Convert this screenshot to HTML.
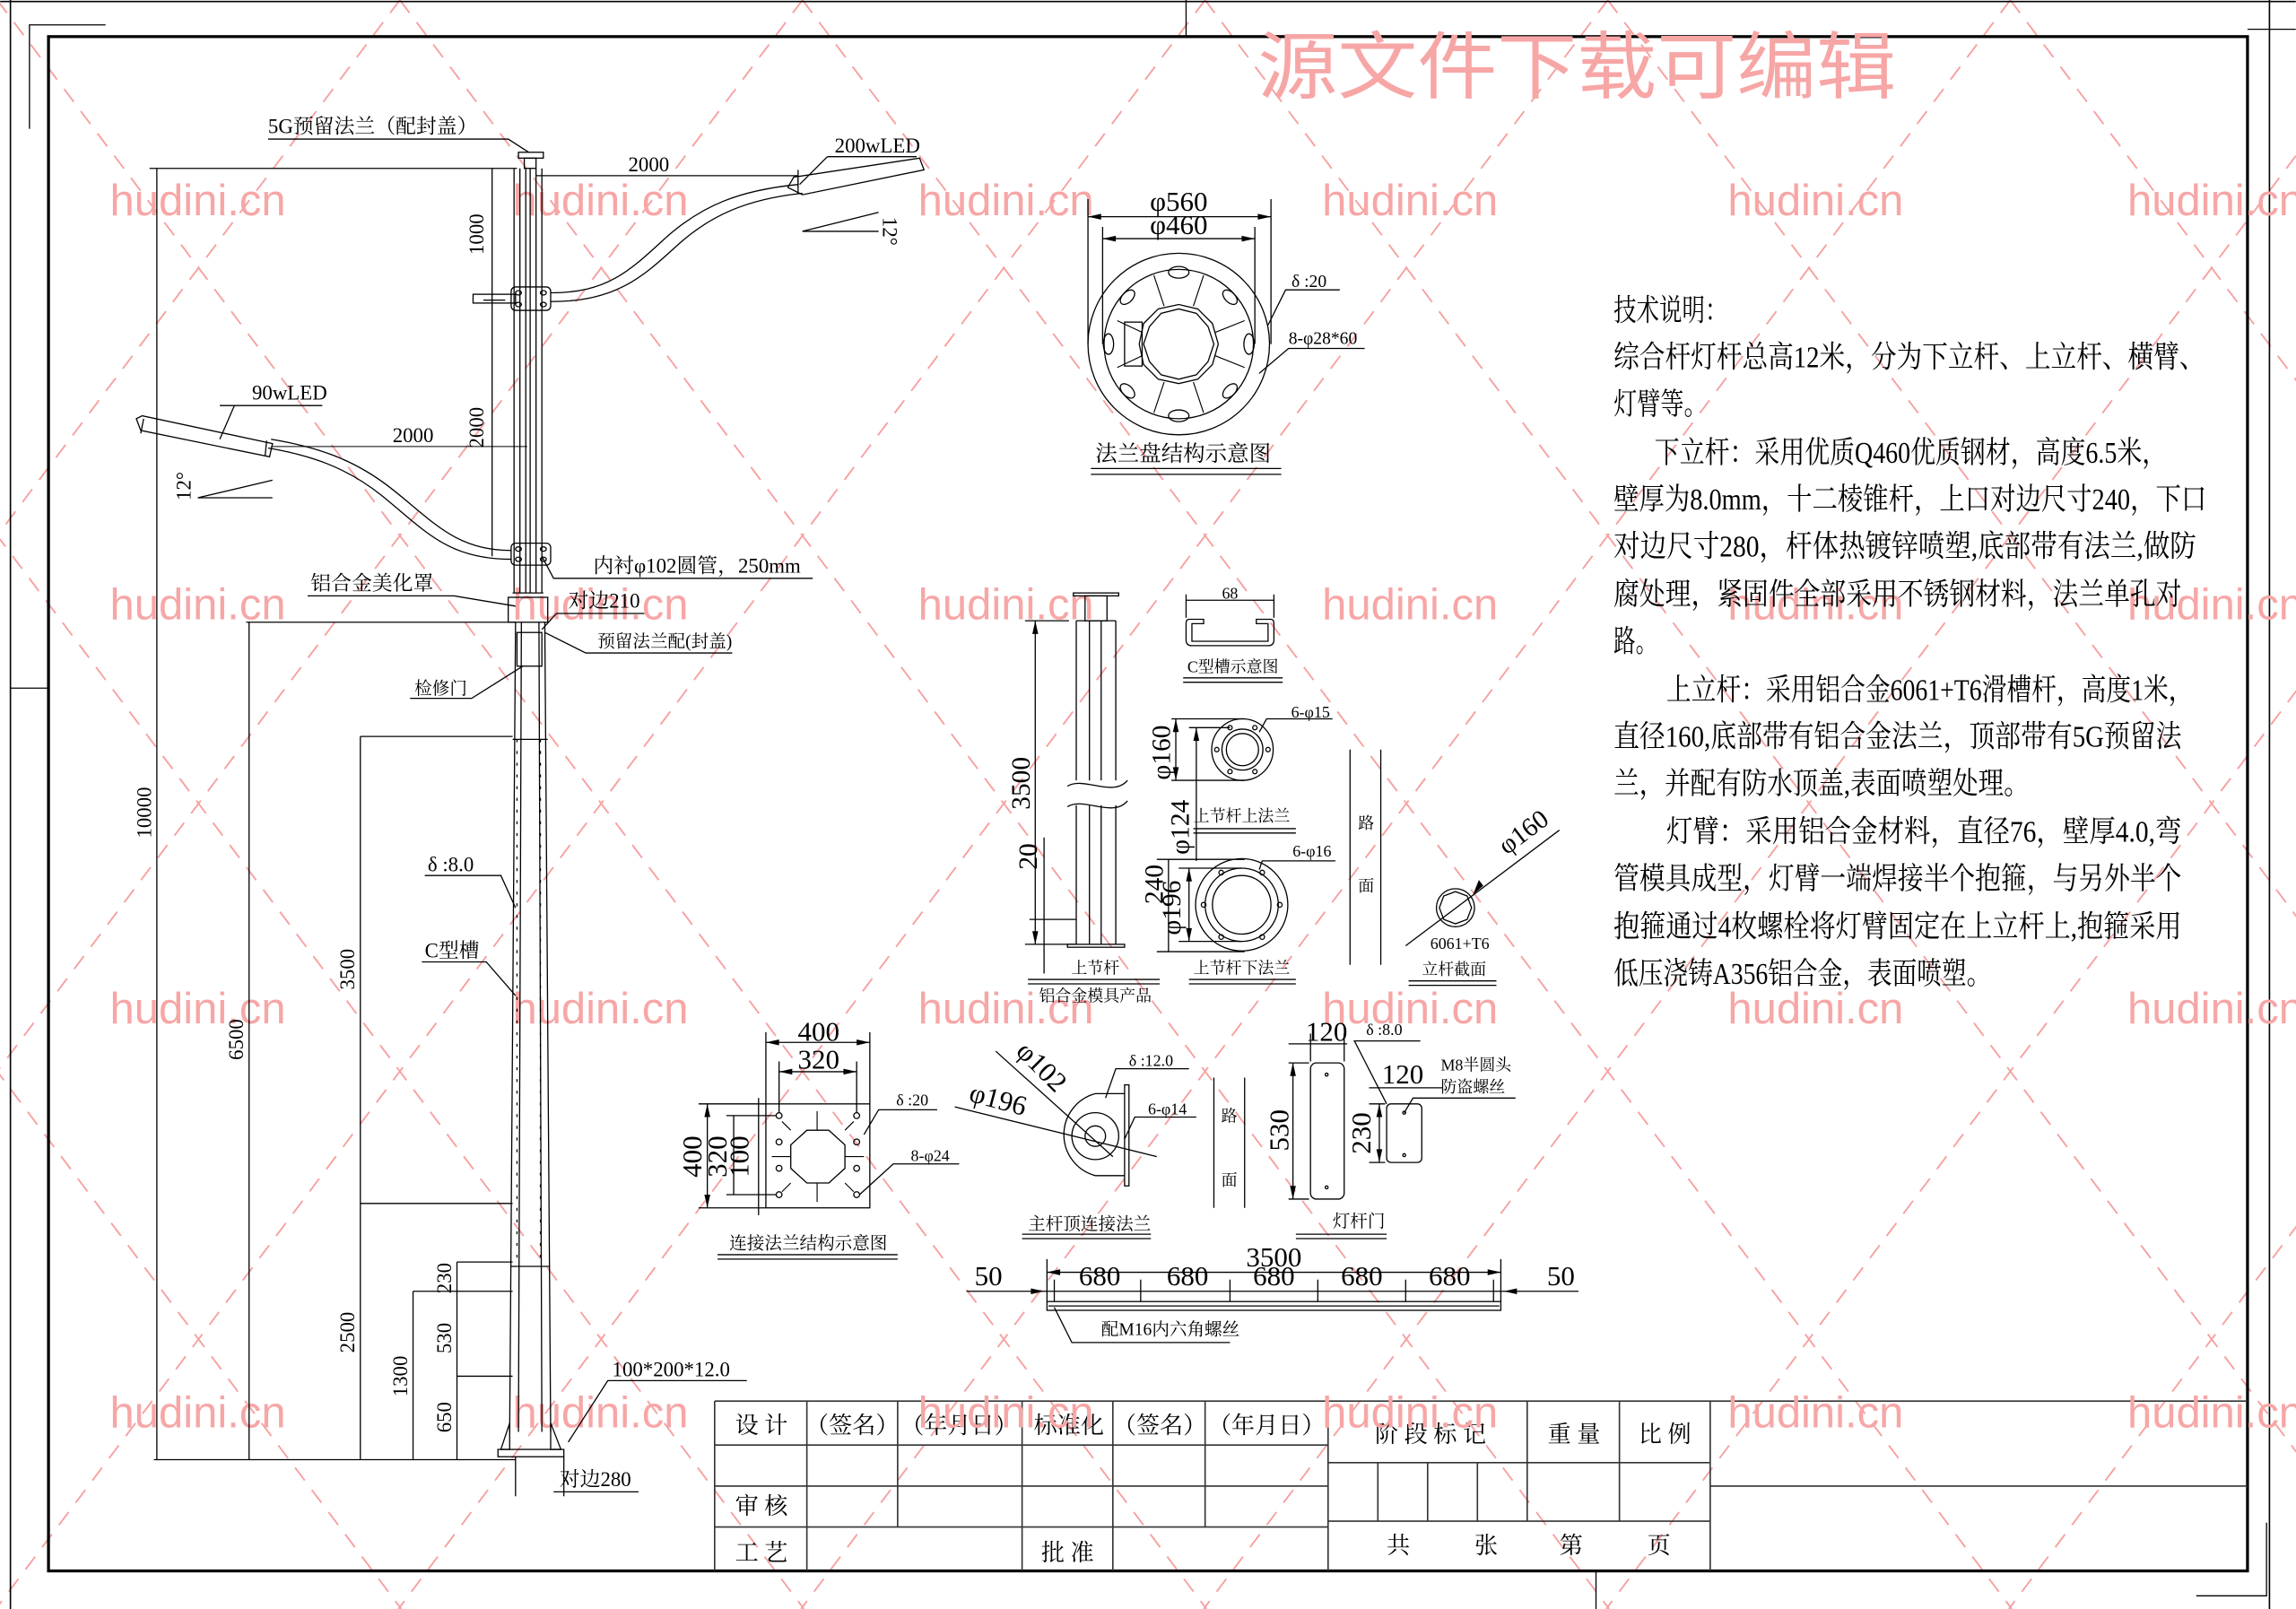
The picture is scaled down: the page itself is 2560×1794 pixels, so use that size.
<!DOCTYPE html>
<html><head><meta charset="utf-8"><style>
html,body{margin:0;padding:0;background:#fff;}
svg{display:block;}
text{font-family:"Liberation Serif","Noto Serif CJK SC",serif;fill:#000;stroke:none;}
.wm text{font-family:"Liberation Sans",sans-serif;fill:#f7a6a6;font-size:30px;}
.ttl{font-family:"Noto Sans CJK SC",sans-serif;fill:#f7a6a6;}
</style></head><body>
<svg width="2560" height="1794" viewBox="0 0 1568 1099" xmlns="http://www.w3.org/2000/svg">
<rect width="1568" height="1099" fill="#fff"/>
<!-- watermark dashed lines -->
<g stroke="#f6a3a3" stroke-width="1.2" stroke-dasharray="11 8" fill="none">
<line x1="-552" y1="0" x2="274" y2="1099"/><line x1="-277" y1="0" x2="549" y2="1099"/><line x1="-2" y1="0" x2="824" y2="1099"/><line x1="273" y1="0" x2="1099" y2="1099"/><line x1="548" y1="0" x2="1374" y2="1099"/><line x1="823" y1="0" x2="1649" y2="1099"/><line x1="1098" y1="0" x2="1924" y2="1099"/><line x1="1373" y1="0" x2="2199" y2="1099"/>
<line x1="-2" y1="0" x2="-828" y2="1099"/><line x1="273" y1="0" x2="-553" y2="1099"/><line x1="548" y1="0" x2="-278" y2="1099"/><line x1="823" y1="0" x2="-3" y2="1099"/><line x1="1098" y1="0" x2="272" y2="1099"/><line x1="1373" y1="0" x2="547" y2="1099"/><line x1="1648" y1="0" x2="822" y2="1099"/><line x1="1923" y1="0" x2="1097" y2="1099"/><line x1="2198" y1="0" x2="1372" y2="1099"/>
</g>
<!-- frame -->
<g fill="none" stroke="#000">
<line x1="0" y1="1" x2="1568" y2="1" stroke-width="1"/>
<line x1="7" y1="0" x2="7" y2="1099" stroke-width="1"/>
<line x1="1550" y1="0" x2="1550" y2="1099" stroke-width="1"/>
<rect x="33" y="25" width="1502" height="1048" stroke-width="2"/>
<polyline points="72,17 20,17 20,88" stroke-width="0.8"/>
<polyline points="1500,1090 1548,1090 1548,1040" stroke-width="0.8"/>
<line x1="7" y1="470" x2="33" y2="470" stroke-width="0.8"/>
<line x1="1535" y1="20" x2="1568" y2="20" stroke-width="0.8"/>
<line x1="810" y1="0" x2="810" y2="25" stroke-width="0.8"/>
<line x1="1090" y1="1073" x2="1090" y2="1099" stroke-width="0.8"/>
</g>
<!-- title block -->
<g fill="none" stroke="#333" stroke-width="1">
<line x1="488" y1="957" x2="1535" y2="957"/>
<line x1="488" y1="957" x2="488" y2="1073"/>
<line x1="488" y1="987" x2="907" y2="987"/>
<line x1="488" y1="1015" x2="907" y2="1015"/>
<line x1="488" y1="1043" x2="907" y2="1043"/>
<line x1="551" y1="957" x2="551" y2="1073"/><line x1="613" y1="957" x2="613" y2="1043"/>
<line x1="698" y1="957" x2="698" y2="1073"/><line x1="760" y1="957" x2="760" y2="1073"/>
<line x1="823" y1="957" x2="823" y2="1043"/><line x1="907" y1="957" x2="907" y2="1073"/>
<line x1="907" y1="999" x2="1168" y2="999"/><line x1="907" y1="1039" x2="1168" y2="1039"/>
<line x1="941" y1="999" x2="941" y2="1039"/><line x1="975" y1="999" x2="975" y2="1039"/><line x1="1009" y1="999" x2="1009" y2="1039"/>
<line x1="1043" y1="957" x2="1043" y2="1039"/><line x1="1106" y1="957" x2="1106" y2="1039"/>
<line x1="1168" y1="957" x2="1168" y2="1073"/>
<line x1="1168" y1="1015" x2="1535" y2="1015"/>
</g>
<g font-size="16" text-anchor="middle">
<text x="520" y="979">设 计</text><text x="582" y="979">（签名）</text><text x="655" y="979">（年月日）</text><text x="730" y="979">标准化</text><text x="792" y="979">（签名）</text><text x="865" y="979">（年月日）</text>
<text x="520" y="1034">审 核</text><text x="520" y="1066">工 艺</text><text x="729" y="1066">批 准</text>
<text x="977" y="985">阶 段 标 记</text><text x="1075" y="985">重 量</text><text x="1137" y="985">比 例</text>
<text x="955" y="1061">共</text><text x="1015" y="1061">张</text><text x="1073" y="1061">第</text><text x="1133" y="1061">页</text>
</g>
<!-- watermark text -->
<g class="wm" text-anchor="middle">
<text x="135" y="147">hudini.cn</text><text x="410" y="147">hudini.cn</text><text x="687" y="147">hudini.cn</text><text x="963" y="147">hudini.cn</text><text x="1240" y="147">hudini.cn</text><text x="1513" y="147">hudini.cn</text>
<text x="135" y="423">hudini.cn</text><text x="410" y="423">hudini.cn</text><text x="687" y="423">hudini.cn</text><text x="963" y="423">hudini.cn</text><text x="1240" y="423">hudini.cn</text><text x="1513" y="423">hudini.cn</text>
<text x="135" y="699">hudini.cn</text><text x="410" y="699">hudini.cn</text><text x="687" y="699">hudini.cn</text><text x="963" y="699">hudini.cn</text><text x="1240" y="699">hudini.cn</text><text x="1513" y="699">hudini.cn</text>
<text x="135" y="975">hudini.cn</text><text x="410" y="975">hudini.cn</text><text x="687" y="975">hudini.cn</text><text x="963" y="975">hudini.cn</text><text x="1240" y="975">hudini.cn</text><text x="1513" y="975">hudini.cn</text>
</g>
<text class="ttl" x="1077" y="63" text-anchor="middle" font-size="50" textLength="436" lengthAdjust="spacingAndGlyphs">源文件下载可编辑</text>

<!-- tech notes -->
<g font-size="21">
<text x="1102" y="219" textLength="78" lengthAdjust="spacingAndGlyphs">技术说明：</text>
<text x="1102" y="251" textLength="404" lengthAdjust="spacingAndGlyphs">综合杆灯杆总高12米，分为下立杆、上立杆、横臂、</text>
<text x="1102" y="283" textLength="64" lengthAdjust="spacingAndGlyphs">灯臂等。</text>
<text x="1130" y="316" textLength="350" lengthAdjust="spacingAndGlyphs">下立杆：采用优质Q460优质钢材，高度6.5米，</text>
<text x="1102" y="348" textLength="405" lengthAdjust="spacingAndGlyphs">壁厚为8.0mm，十二棱锥杆，上口对边尺寸240，下口</text>
<text x="1102" y="380" textLength="398" lengthAdjust="spacingAndGlyphs">对边尺寸280，杆体热镀锌喷塑,底部带有法兰,做防</text>
<text x="1102" y="413" textLength="388" lengthAdjust="spacingAndGlyphs">腐处理，紧固件全部采用不锈钢材料，法兰单孔对</text>
<text x="1102" y="445" textLength="30" lengthAdjust="spacingAndGlyphs">路。</text>
<text x="1138" y="478" textLength="360" lengthAdjust="spacingAndGlyphs">上立杆：采用铝合金6061+T6滑槽杆，高度1米，</text>
<text x="1102" y="510" textLength="388" lengthAdjust="spacingAndGlyphs">直径160,底部带有铝合金法兰，顶部带有5G预留法</text>
<text x="1102" y="542" textLength="284" lengthAdjust="spacingAndGlyphs">兰，并配有防水顶盖,表面喷塑处理。</text>
<text x="1138" y="575" textLength="352" lengthAdjust="spacingAndGlyphs">灯臂：采用铝合金材料，直径76，壁厚4.0,弯</text>
<text x="1102" y="607" textLength="388" lengthAdjust="spacingAndGlyphs">管模具成型，灯臂一端焊接半个抱箍，与另外半个</text>
<text x="1102" y="640" textLength="388" lengthAdjust="spacingAndGlyphs">抱箍通过4枚螺栓将灯臂固定在上立杆上,抱箍采用</text>
<text x="1102" y="672" textLength="258" lengthAdjust="spacingAndGlyphs">低压浇铸A356铝合金，表面喷塑。</text>
</g>

<!-- ===== main pole ===== -->
<g fill="none" stroke="#000" stroke-width="0.8">
<rect x="354" y="104" width="17" height="4"/><rect x="358" y="108" width="8" height="7"/>
<line x1="351" y1="115" x2="351" y2="405"/><line x1="355" y1="115" x2="355" y2="405"/><line x1="359" y1="115" x2="359" y2="405"/><line x1="362" y1="115" x2="362" y2="405"/><line x1="366" y1="115" x2="366" y2="405"/><line x1="370" y1="115" x2="370" y2="405"/>
<line x1="102" y1="115" x2="353" y2="115"/>
<line x1="366" y1="120" x2="545" y2="120"/><line x1="545" y1="116" x2="545" y2="128"/>
<line x1="336" y1="115" x2="336" y2="380"/><line x1="330" y1="205" x2="345" y2="205"/>
<rect x="349" y="196" width="27" height="16" rx="3"/>
<ellipse cx="354" cy="200" rx="2" ry="1.5"/><ellipse cx="371" cy="200" rx="2" ry="1.5"/><ellipse cx="354" cy="208" rx="2" ry="1.5"/><ellipse cx="371" cy="208" rx="2" ry="1.5"/>
<rect x="323" y="201" width="29" height="6"/>
<path d="M376,200 C415,200 430,185 455,162 C480,140 505,130 545,126"/>
<path d="M376,206 C420,206 438,190 462,168 C485,147 510,136 548,132"/>
<polygon points="538,128 542,121 628,108 631,116 548,133"/>
<line x1="545" y1="122" x2="545" y2="132"/>
<line x1="565" y1="107" x2="626" y2="107"/><line x1="565" y1="107" x2="546" y2="126"/>
<line x1="548" y1="158" x2="600" y2="158"/><line x1="548" y1="158" x2="600" y2="145"/>
<rect x="349" y="371" width="27" height="15" rx="3"/>
<ellipse cx="354" cy="375" rx="2" ry="1.5"/><ellipse cx="371" cy="375" rx="2" ry="1.5"/><ellipse cx="354" cy="382" rx="2" ry="1.5"/><ellipse cx="371" cy="382" rx="2" ry="1.5"/>
<path d="M349,376 C310,376 295,355 265,332 C240,313 215,305 185,300"/>
<path d="M349,382 C305,382 290,362 260,338 C236,319 212,311 183,306"/>
<polygon points="93,286 96,294 184,312 186,303 97,284"/>
<line x1="98" y1="286" x2="96" y2="296"/><line x1="182" y1="301" x2="181" y2="311"/>
<line x1="185" y1="305" x2="360" y2="305" stroke-width="0.6"/>
<line x1="150" y1="277" x2="220" y2="277"/><line x1="160" y1="277" x2="150" y2="300"/>
<line x1="135" y1="340" x2="186" y2="340"/><line x1="135" y1="340" x2="186" y2="328"/>
<polyline points="183,95 347,95 361,104"/>
<polyline points="555,395 378,395 370,380"/>
<polyline points="210,407 310,407 352,414"/>
<polyline points="440,419 380,419 370,430"/>
<polyline points="500,446 400,446 372,432"/>
<polyline points="280,477 322,477 357,455"/>
<polyline points="290,598 342,598 352,620"/>
<polyline points="288,657 332,657 352,680"/>
<polyline points="510,943 415,943 388,985"/>
<rect x="347" y="408" width="27" height="17"/>
<line x1="350" y1="405" x2="371" y2="405"/>
<line x1="168" y1="425" x2="352" y2="425"/>
<line x1="352" y1="425" x2="348" y2="978"/><line x1="372" y1="425" x2="376" y2="978"/>
<line x1="356" y1="425" x2="354" y2="978"/><line x1="368" y1="425" x2="370" y2="978"/>
<rect x="353" y="432" width="17" height="23"/>
<line x1="353" y1="505" x2="353" y2="865" stroke-dasharray="2 6"/><line x1="369" y1="505" x2="369" y2="865" stroke-dasharray="2 6"/>
<line x1="350" y1="505" x2="374" y2="505"/><line x1="349" y1="865" x2="375" y2="865"/>
<rect x="340" y="990" width="45" height="5"/>
<polygon points="348,990 348,972 342,990"/><polygon points="376,990 376,972 383,990"/>
<line x1="352" y1="995" x2="352" y2="1022"/><line x1="385" y1="995" x2="385" y2="1022"/>
<line x1="378" y1="1019" x2="436" y2="1019"/>
<line x1="107" y1="115" x2="107" y2="997"/>
<line x1="170" y1="425" x2="170" y2="997"/>
<line x1="246" y1="503" x2="246" y2="997"/>
<line x1="282" y1="882" x2="282" y2="997"/>
<line x1="312" y1="862" x2="312" y2="997"/>
<line x1="246" y1="503" x2="350" y2="503"/>
<line x1="246" y1="822" x2="350" y2="822"/>
<line x1="312" y1="862" x2="350" y2="862"/>
<line x1="282" y1="882" x2="350" y2="882"/>
<line x1="312" y1="940" x2="350" y2="940"/>
<line x1="105" y1="997" x2="352" y2="997"/>
</g>
<g font-size="14">
<text x="183" y="91">5G预留法兰（配封盖）</text>
<text x="443" y="117" text-anchor="middle">2000</text>
<text x="570" y="104">200wLED</text>
<text x="172" y="273">90wLED</text>
<text x="282" y="302" text-anchor="middle">2000</text>
<text x="405" y="391">内衬φ102圆管，250mm</text>
<text x="212" y="403">铝合金美化罩</text>
<text x="388" y="415">对边210</text>
<text x="408" y="442" font-size="12">预留法兰配(封盖)</text>
<text x="283" y="474" font-size="12">检修门</text>
<text x="292" y="595">δ :8.0</text>
<text x="290" y="654">C型槽</text>
<text x="418" y="940">100*200*12.0</text>
<text x="382" y="1015">对边280</text>
<text transform="rotate(-90 330 160)" x="330" y="160" text-anchor="middle">1000</text>
<text transform="rotate(-90 330 292)" x="330" y="292" text-anchor="middle">2000</text>
<text transform="rotate(90 603 158)" x="603" y="158" text-anchor="middle">12°</text>
<text transform="rotate(-90 130 332)" x="130" y="332" text-anchor="middle">12°</text>
<text transform="rotate(-90 103 555)" x="103" y="555" text-anchor="middle">10000</text>
<text transform="rotate(-90 166 710)" x="166" y="710" text-anchor="middle">6500</text>
<text transform="rotate(-90 242 662)" x="242" y="662" text-anchor="middle">3500</text>
<text transform="rotate(-90 242 910)" x="242" y="910" text-anchor="middle">2500</text>
<text transform="rotate(-90 278 940)" x="278" y="940" text-anchor="middle">1300</text>
<text transform="rotate(-90 308 873)" x="308" y="873" text-anchor="middle">230</text>
<text transform="rotate(-90 308 914)" x="308" y="914" text-anchor="middle">530</text>
<text transform="rotate(-90 308 968)" x="308" y="968" text-anchor="middle">650</text>
</g>

<!-- ===== flange plate ===== -->
<g fill="none" stroke="#000" stroke-width="0.8">
<circle cx="805" cy="235" r="62"/><circle cx="805" cy="235" r="51"/>
<polygon points="832,235 828,249 818,259 805,262 791,259 781,249 778,235 781,221 791,211 805,208 818,211 828,221"/>
<polygon points="829,235 825,247 817,256 805,259 793,256 785,247 781,235 785,223 793,214 805,211 817,214 825,223"/>
<g stroke-width="0.7">
<line x1="815" y1="209" x2="822" y2="188"/><line x1="795" y1="209" x2="788" y2="188"/>
<line x1="815" y1="261" x2="822" y2="282"/><line x1="795" y1="261" x2="788" y2="282"/>
<line x1="830" y1="227" x2="850" y2="219"/><line x1="830" y1="243" x2="850" y2="251"/>
<line x1="780" y1="227" x2="763" y2="219"/><line x1="780" y1="243" x2="763" y2="251"/>
</g>
<ellipse cx="805" cy="186" rx="7" ry="4"/><ellipse cx="805" cy="284" rx="7" ry="4"/>
<ellipse cx="757" cy="235" rx="3.5" ry="7"/><ellipse cx="853" cy="235" rx="3.5" ry="7"/>
<ellipse cx="770" cy="203" rx="6" ry="3.5" transform="rotate(-45 770 203)"/><ellipse cx="840" cy="203" rx="6" ry="3.5" transform="rotate(45 840 203)"/>
<ellipse cx="770" cy="267" rx="6" ry="3.5" transform="rotate(45 770 267)"/><ellipse cx="840" cy="267" rx="6" ry="3.5" transform="rotate(-45 840 267)"/>
<rect x="768" y="220" width="12" height="30"/>
<line x1="743" y1="136" x2="743" y2="235"/><line x1="868" y1="136" x2="868" y2="235"/>
<line x1="753" y1="155" x2="753" y2="235"/><line x1="857" y1="155" x2="857" y2="235"/>
<line x1="743" y1="148" x2="868" y2="148"/><line x1="753" y1="163" x2="857" y2="163"/>
<polyline points="915,198 878,198 866,222"/>
<polyline points="932,238 880,238 860,255"/>
<line x1="745" y1="320" x2="875" y2="320"/><line x1="745" y1="324" x2="875" y2="324"/>
</g>
<g fill="#000">
<polygon points="743,148 752,146 752,150"/><polygon points="868,148 859,146 859,150"/>
<polygon points="753,163 762,161 762,165"/><polygon points="857,163 848,161 848,165"/>
</g>
<g font-size="19" text-anchor="middle"><text x="805" y="144">φ560</text><text x="805" y="160">φ460</text></g>
<g font-size="12"><text x="882" y="196">δ :20</text><text x="880" y="235">8-φ28*60</text></g>
<text x="808" y="315" font-size="15" text-anchor="middle">法兰盘结构示意图</text>

<!-- ===== middle section ===== -->
<g fill="none" stroke="#000" stroke-width="0.8">
<rect x="733" y="405" width="31" height="2"/><rect x="741" y="407" width="15" height="17"/>
<line x1="735" y1="424" x2="735" y2="533"/><line x1="744" y1="424" x2="744" y2="533"/><line x1="752" y1="424" x2="752" y2="533"/><line x1="762" y1="424" x2="762" y2="533"/>
<line x1="735" y1="424" x2="762" y2="424"/>
<path d="M729,537 C740,530 760,545 770,533"/><path d="M729,551 C740,544 760,559 770,547"/>
<line x1="735" y1="550" x2="735" y2="645"/><line x1="744" y1="550" x2="744" y2="645"/><line x1="752" y1="550" x2="752" y2="645"/><line x1="762" y1="550" x2="762" y2="645"/>
<rect x="729" y="645" width="39" height="2"/>
<line x1="700" y1="424" x2="730" y2="424"/><line x1="707" y1="424" x2="707" y2="645"/>
<line x1="700" y1="645" x2="735" y2="645"/><line x1="713" y1="572" x2="713" y2="665"/><line x1="703" y1="628" x2="735" y2="628"/>
<line x1="702" y1="669" x2="792" y2="669"/><line x1="702" y1="672" x2="792" y2="672"/>
<path d="M814,423 L812,423 Q810,423 810,426 L810,437 Q810,441 814,441 L866,441 Q870,441 870,437 L870,426 Q870,423 868,423 L858,423 L858,426 L866,426 L866,438 L814,438 L814,426 L822,426 L822,423 Z"/>
<line x1="810" y1="406" x2="810" y2="422"/><line x1="870" y1="406" x2="870" y2="422"/><line x1="810" y1="410" x2="870" y2="410"/>
<line x1="808" y1="463" x2="876" y2="463"/><line x1="808" y1="466" x2="876" y2="466"/>
<circle cx="848.5" cy="512" r="21"/><circle cx="848.5" cy="512" r="14"/><circle cx="848.5" cy="512" r="11"/>
<circle cx="857" cy="497" r="1.5"/><circle cx="840" cy="497" r="1.5"/><circle cx="857" cy="527" r="1.5"/><circle cx="840" cy="527" r="1.5"/><circle cx="831" cy="512" r="1.5"/><circle cx="866" cy="512" r="1.5"/>
<line x1="800" y1="491" x2="850" y2="491"/><line x1="800" y1="533" x2="850" y2="533"/><line x1="803" y1="491" x2="803" y2="533"/>
<line x1="812" y1="497" x2="840" y2="497"/><line x1="817" y1="497" x2="817" y2="588"/>
<polyline points="910,491 865,491 860,500"/>
<line x1="815" y1="566" x2="885" y2="566"/><line x1="815" y1="569" x2="885" y2="569"/>
<circle cx="848" cy="618" r="31.5"/><circle cx="848" cy="618" r="25"/><circle cx="848" cy="618" r="20"/>
<circle cx="834" cy="596" r="1.6"/><circle cx="862" cy="596" r="1.6"/><circle cx="834" cy="640" r="1.6"/><circle cx="862" cy="640" r="1.6"/><circle cx="822" cy="618" r="1.6"/><circle cx="874" cy="618" r="1.6"/>
<line x1="790" y1="587" x2="850" y2="587"/><line x1="790" y1="650" x2="850" y2="650"/><line x1="798" y1="587" x2="798" y2="650"/>
<line x1="805" y1="593" x2="848" y2="593"/><line x1="812" y1="593" x2="812" y2="643"/><line x1="805" y1="643" x2="848" y2="643"/>
<polyline points="912,588 862,588 860,594"/>
<line x1="812" y1="669" x2="885" y2="669"/><line x1="812" y1="672" x2="885" y2="672"/>
<line x1="922" y1="512" x2="922" y2="659"/><line x1="943" y1="512" x2="943" y2="659"/>
<circle cx="994" cy="620" r="13"/><polygon points="1005,620 1002,628 994,631 986,628 983,620 986,612 994,609 1002,612"/>
<line x1="960" y1="646" x2="1065" y2="567"/>
<line x1="962" y1="670" x2="1022" y2="670"/><line x1="962" y1="673" x2="1022" y2="673"/>
</g>
<g fill="#000">
<polygon points="707,424 705,433 709,433"/><polygon points="707,645 705,636 709,636"/>
<polygon points="803,491 801,500 805,500"/><polygon points="803,533 801,524 805,524"/>
<polygon points="817,497 815,506 819,506"/><polygon points="812,593 810,602 814,602"/><polygon points="812,643 810,634 814,634"/>
<polygon points="1006,611 1010,601 1013,605"/>
</g>
<g font-size="18" text-anchor="middle">
<text transform="rotate(-90 703 535)" x="703" y="535">3500</text>
<text transform="rotate(-90 708 585)" x="708" y="585">20</text>
<text transform="rotate(-90 799 514)" x="799" y="514">φ160</text>
<text transform="rotate(-90 812 565)" x="812" y="565">φ124</text>
<text transform="rotate(-90 794 604)" x="794" y="604">240</text>
<text transform="rotate(-90 806 620)" x="806" y="620">φ196</text>
<text transform="rotate(-37 1044 573)" x="1044" y="573">φ160</text>
</g>
<g font-size="11" text-anchor="middle">
<text x="840" y="409">68</text><text x="842" y="459">C型槽示意图</text>
<text x="748" y="665">上节杆</text><text x="748" y="684">铝合金模具产品</text>
<text x="848" y="561">上节杆上法兰</text><text x="848" y="665">上节杆下法兰</text>
<text x="895" y="490">6-φ15</text><text x="896" y="585">6-φ16</text>
<text x="933" y="566">路</text><text x="933" y="609">面</text>
<text x="997" y="648">6061+T6</text><text x="993" y="666">立杆截面</text>
</g>

<!-- ===== bottom section ===== -->
<g fill="none" stroke="#000" stroke-width="0.8">
<rect x="523" y="754" width="71" height="71"/>
<polygon points="566,772 577,782 577,798 566,808 551,808 540,798 540,782 551,772"/>
<g stroke-width="0.7"><line x1="558" y1="759" x2="558" y2="772"/><line x1="558" y1="808" x2="558" y2="821"/><line x1="527" y1="790" x2="540" y2="790"/><line x1="577" y1="790" x2="590" y2="790"/>
<line x1="540" y1="772" x2="534" y2="766"/><line x1="577" y1="772" x2="583" y2="766"/><line x1="540" y1="808" x2="534" y2="814"/><line x1="577" y1="808" x2="583" y2="814"/></g>
<circle cx="532" cy="762" r="2"/><circle cx="585" cy="762" r="2"/><circle cx="532" cy="780" r="2"/><circle cx="585" cy="780" r="2"/><circle cx="532" cy="798" r="2"/><circle cx="585" cy="798" r="2"/><circle cx="532" cy="816" r="2"/><circle cx="585" cy="816" r="2"/>
<line x1="523" y1="705" x2="523" y2="754"/><line x1="594" y1="705" x2="594" y2="754"/><line x1="532" y1="725" x2="532" y2="760"/><line x1="585" y1="725" x2="585" y2="760"/>
<line x1="523" y1="712" x2="594" y2="712"/><line x1="532" y1="732" x2="585" y2="732"/>
<line x1="477" y1="754" x2="523" y2="754"/><line x1="477" y1="825" x2="523" y2="825"/><line x1="483" y1="754" x2="483" y2="825"/><line x1="518" y1="750" x2="518" y2="830"/>
<line x1="496" y1="762" x2="530" y2="762"/><line x1="496" y1="816" x2="530" y2="816"/><line x1="501" y1="762" x2="501" y2="816"/>
<polyline points="640,758 600,758 590,775"/><polyline points="655,795 610,795 587,816"/>
<line x1="490" y1="857" x2="613" y2="857"/><line x1="490" y1="860" x2="613" y2="860"/>
<path d="M768,747 L748,747 A29,29 0 0 0 748,803 L768,803"/>
<circle cx="748" cy="776" r="16"/><circle cx="748" cy="776" r="7"/>
<rect x="768" y="741" width="3" height="69"/>
<line x1="680" y1="718" x2="760" y2="790"/><line x1="652" y1="756" x2="790" y2="790"/>
<polyline points="812,730 762,730 755,750"/><polyline points="817,763 775,763 768,778"/>
<line x1="698" y1="843" x2="786" y2="843"/><line x1="698" y1="846" x2="786" y2="846"/>
<line x1="829" y1="736" x2="829" y2="825"/><line x1="850" y1="736" x2="850" y2="825"/>
<rect x="895" y="726" width="23" height="93" rx="4"/><circle cx="906" cy="734" r="1"/><circle cx="906" cy="811" r="1"/>
<rect x="947" y="754" width="24" height="40" rx="3"/><circle cx="959" cy="760" r="1"/><circle cx="959" cy="789" r="1"/>
<line x1="880" y1="713" x2="920" y2="713"/><line x1="895" y1="706" x2="895" y2="725"/><line x1="918" y1="706" x2="918" y2="725"/>
<polyline points="970,711 925,711 947,754"/>
<line x1="880" y1="726" x2="894" y2="726"/><line x1="880" y1="819" x2="894" y2="819"/><line x1="883" y1="726" x2="883" y2="819"/>
<line x1="935" y1="743" x2="985" y2="743"/><line x1="935" y1="754" x2="946" y2="754"/><line x1="935" y1="794" x2="946" y2="794"/><line x1="942" y1="754" x2="942" y2="794"/>
<polyline points="1035,750 965,750 959,760"/>
<line x1="885" y1="843" x2="947" y2="843"/><line x1="885" y1="846" x2="947" y2="846"/>
<rect x="715" y="889" width="310" height="6"/><line x1="716" y1="892" x2="1024" y2="892"/>
<line x1="715" y1="860" x2="715" y2="889"/><line x1="1025" y1="860" x2="1025" y2="889"/>
<line x1="715" y1="869" x2="1025" y2="869"/>
<line x1="660" y1="882" x2="1078" y2="882"/>
<line x1="720" y1="874" x2="720" y2="889"/><line x1="779" y1="874" x2="779" y2="889"/><line x1="840" y1="874" x2="840" y2="889"/><line x1="900" y1="874" x2="900" y2="889"/><line x1="960" y1="874" x2="960" y2="889"/><line x1="1020" y1="874" x2="1020" y2="889"/>
<polyline points="840,917 732,917 720,893"/>
</g>
<g fill="#000">
<polygon points="523,712 532,710 532,714"/><polygon points="594,712 585,710 585,714"/>
<polygon points="532,732 541,730 541,734"/><polygon points="585,732 576,730 576,734"/>
<polygon points="483,754 481,763 485,763"/><polygon points="483,825 481,816 485,816"/>
<polygon points="715,869 724,867 724,871"/><polygon points="1025,869 1016,867 1016,871"/>
<polygon points="713,882 704,880 704,884"/><polygon points="1027,882 1036,880 1036,884"/>
<polygon points="883,726 881,735 885,735"/><polygon points="883,819 881,810 885,810"/>
<polygon points="942,754 940,763 944,763"/><polygon points="942,794 940,785 944,785"/>
</g>
<g font-size="19" text-anchor="middle">
<text x="559" y="711">400</text><text x="559" y="730">320</text>
<text transform="rotate(-90 479 790)" x="479" y="790">400</text>
<text transform="rotate(-90 496 790)" x="496" y="790">320</text>
<text transform="rotate(-90 511 790)" x="511" y="790">100</text>
<text transform="rotate(45 707 733)" x="707" y="733">φ102</text>
<text transform="rotate(15 680 757)" x="680" y="757">φ196</text>
<text x="906" y="711">120</text><text x="958" y="740">120</text>
<text transform="rotate(-90 880 772)" x="880" y="772">530</text>
<text transform="rotate(-90 936 774)" x="936" y="774">230</text>
<text x="870" y="865">3500</text>
<text x="675" y="878">50</text><text x="1066" y="878">50</text>
<text x="751" y="878">680</text><text x="811" y="878">680</text><text x="870" y="878">680</text><text x="930" y="878">680</text><text x="990" y="878">680</text>
</g>
<g font-size="11">
<text x="612" y="755">δ :20</text><text x="622" y="793">8-φ24</text>
<text x="771" y="728">δ :12.0</text><text x="784" y="761">6-φ14</text>
<text x="933" y="707">δ :8.0</text><text x="984" y="731">M8半圆头</text><text x="984" y="746">防盗螺丝</text>
<text x="834" y="766">路</text><text x="834" y="810">面</text>
<text x="552" y="853" text-anchor="middle" font-size="12">连接法兰结构示意图</text>
<text x="744" y="840" text-anchor="middle" font-size="12">主杆顶连接法兰</text>
<text x="928" y="838" text-anchor="middle" font-size="12">灯杆门</text>
<text x="752" y="912" font-size="12">配M16内六角螺丝</text>
</g>
</svg>
</body></html>
